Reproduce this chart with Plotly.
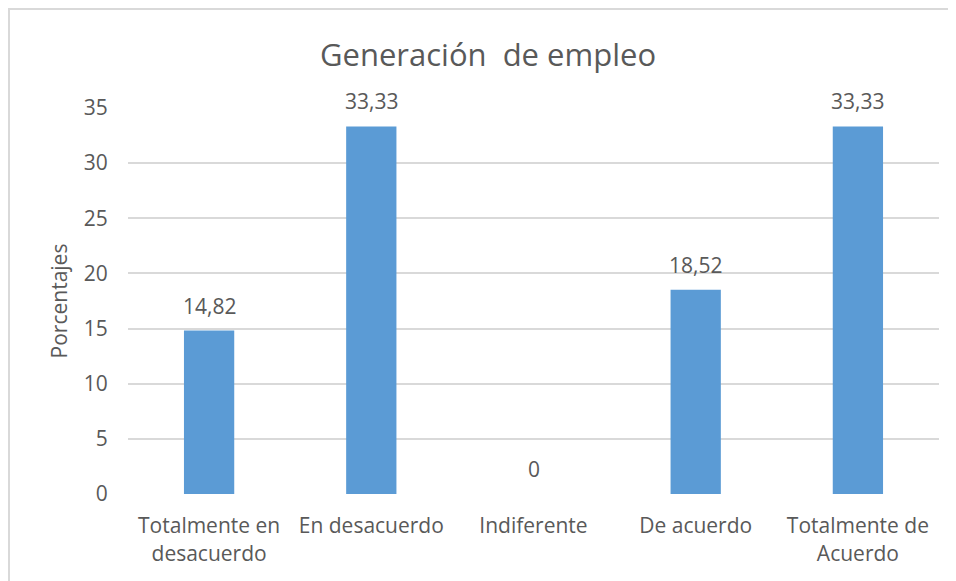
import plotly.graph_objects as go

categorias = ["Totalmente en<br>desacuerdo", "En desacuerdo", "Indiferente",
              "De acuerdo", "Totalmente de<br>Acuerdo"]
porcentajes = [14.82, 33.33, 0, 18.52, 33.33]
ticks_y = [0, 5, 10, 15, 20, 25, 30, 35]

# la pagina tiene 8px de margen en el body: la figura ocupa 948x573
W, H = 948, 573
L, R, T, B = 120, 17, 100, 87
pw, ph = W - L - R, H - T - B
gris = '#595959'

fig = go.Figure()
fig.add_trace(go.Bar(
    x=categorias,
    y=porcentajes,
    marker=dict(color='#5B9BD5', line=dict(width=0)),
    width=0.31,
    hoverinfo='skip'
))

# etiquetas de valor sobre cada barra
for c, v in zip(categorias, porcentajes):
    fig.add_annotation(
        x=c, y=v, text=f"{v:g}".replace('.', ','),
        showarrow=False, yanchor='bottom', yshift=9,
        font=dict(size=21, color=gris)
    )

# borde del area del grafico
fig.add_shape(
    type='rect', xref='paper', yref='paper',
    x0=(1 - L) / pw, x1=(W + 10 - L) / pw,
    y0=-(B + 10) / ph, y1=(ph + T - 1) / ph,
    line=dict(color='#D9D9D9', width=2), fillcolor='rgba(0,0,0,0)',
    layer='below'
)

fig.update_layout(
    width=W, height=H,
    margin=dict(l=L, r=R, t=T, b=B),
    paper_bgcolor='white',
    plot_bgcolor='white',
    font=dict(family='Open Sans', color=gris, size=21),
    title=dict(text='Generación\u00a0 de empleo', x=480 / W, xanchor='center',
               y=1 - 47 / H, yanchor='middle',
               font=dict(size=31, color=gris)),
    showlegend=False,
    xaxis=dict(showgrid=False, showline=False, ticks='outside',
               ticklen=13, tickcolor='rgba(0,0,0,0)',
               tickfont=dict(size=21)),
    yaxis=dict(range=[0, 35], tickvals=ticks_y, showgrid=True,
               gridcolor='#D9D9D9', gridwidth=2, zeroline=False,
               showline=False, ticks='outside', ticklen=15,
               tickcolor='rgba(0,0,0,0)',
               title=dict(text='Porcentajes', standoff=10,
                          font=dict(size=21)),
               tickfont=dict(size=21)),
)

fig.write_html("out.html")
